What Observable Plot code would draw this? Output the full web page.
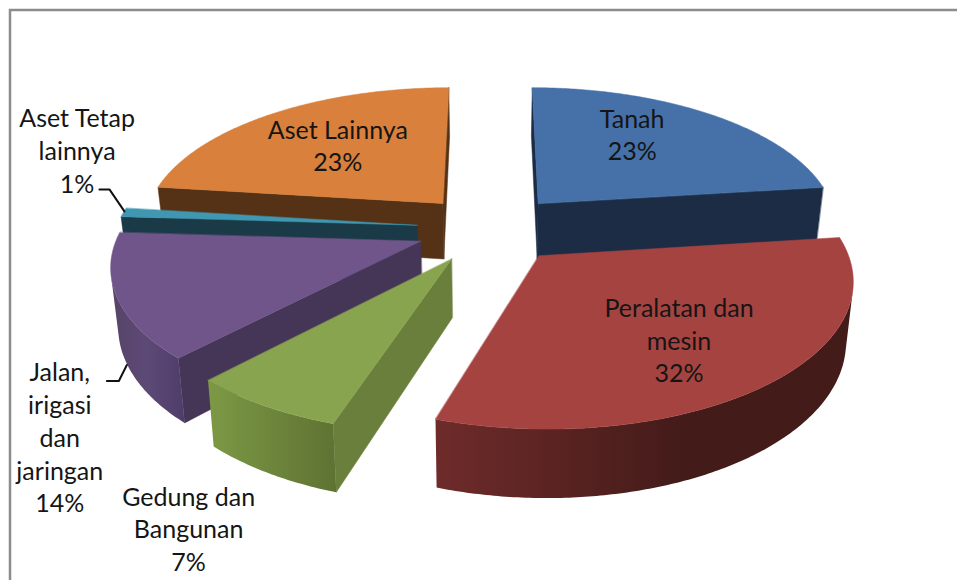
<!DOCTYPE html>
<html>
<head>
<meta charset="utf-8">
<script src="https://cdn.jsdelivr.net/npm/d3@7"></script>
<script src="https://cdn.jsdelivr.net/npm/@observablehq/plot@0.6"></script>
<style>
html,body{margin:0;padding:0;background:#fff;}
svg{display:block;}
</style>
</head>
<body>
<div id="chart"></div>
<script>
// Data
const categories = ["Tanah", "Peralatan dan mesin", "Gedung dan Bangunan", "Jalan, irigasi dan jaringan", "Aset Tetap lainnya", "Aset Lainnya"];
const values = [23, 32, 7, 14, 1, 23];
const labelLines = ["Tanah\n23%", "Peralatan dan\nmesin\n32%", "Gedung dan\nBangunan\n7%", "Jalan,\nirigasi\ndan\njaringan\n14%", "Aset Tetap\nlainnya\n1%", "Aset Lainnya\n23%"];

// Styles, in category order
const topColors = ["#4571a8", "#a54341", "#88a44e", "#70558a", "#3f97b2", "#d8803c"];
const wallColors = ["#1b2c44", "#431b19", "#6a7f3b", "#453556", "#193a46", "#553215"];
const outerFills = ["#1b2c44", "url(#gradRed)", "url(#gradGreen)", "url(#gradPurple)", "#193a46", "#553215"];
const drawOrder = [5, 0, 4, 3, 2, 1];

// Layout: a perspective view of an exploded pie
const W = 957, H = 580;
const Rx = 301, Ry = 297, explodeX = 74, explodeY = 73, thickness = 57, taper = 0.98;
const vx = 490, vy = -728, cy = 228, k = 0.000491, kx = 0.000491;
function project(X, Y, lowered) {
  const s = 1 / (1 + Y * k), sx = 1 / (1 + Y * kx);
  return {
    x: vx + X * sx * (lowered ? taper : 1),
    y: vy + (cy + (lowered ? thickness : 0) - vy) * s
  };
}
const total = d3.sum(values);
const rad = d => d / total * 2 * Math.PI;
let cum = 0;
const slices = values.map((v, i) => {
  const a0 = rad(cum), a1 = rad(cum + v);
  cum += v;
  const mid = (a0 + a1) / 2;
  const ox = explodeX * Math.sin(mid), oy = explodeY * Math.cos(mid);
  const n = Math.max(2, Math.ceil((a1 - a0) * 90));
  const rim = d3.range(n + 1).map(j => {
    const a = a0 + (a1 - a0) * j / n;
    return [ox + Rx * Math.sin(a), oy + Ry * Math.cos(a)];
  });
  return {i, mid, ox, oy, rim};
});
const area = pts => d3.sum(pts, (p, j) => {
  const q = pts[(j + 1) % pts.length];
  return p.x * q.y - q.x * p.y;
});
const rimPoint = (s, a, lowered) => project(s.ox + Rx * Math.sin(a), s.oy + Ry * Math.cos(a), lowered);

// Faces
const faces = [];
for (const idx of drawOrder) {
  const s = slices[idx];
  const apexT = project(s.ox, s.oy, false), apexB = project(s.ox, s.oy, true);
  const rimT = s.rim.map(p => project(p[0], p[1], false));
  const rimB = s.rim.map(p => project(p[0], p[1], true));
  const first = [apexT, rimT[0], rimB[0], apexB];
  const last = [rimT[rimT.length - 1], apexT, apexB, rimB[rimB.length - 1]];
  for (const q of [first, last]) {
    if (area(q) < 0) faces.push({pts: q, fill: wallColors[idx]});
  }
  const seg = d3.range(rimT.length - 1).filter(j => area([rimT[j], rimT[j + 1], rimB[j + 1], rimB[j]]) < 0);
  if (seg.length) {
    const a = seg[0], b = seg[seg.length - 1] + 1;
    faces.push({pts: [...rimT.slice(a, b + 1), ...rimB.slice(a, b + 1).reverse()], fill: outerFills[idx]});
  }
  faces.push({pts: [apexT, ...rimT], fill: topColors[idx]});
}

// Label block centres, relative to each slice's apex
const labelOffsets = [[94, -70], [140, 83.5], [-263, 269], [-361, 195], [-340, -76], [-105, -59]];
const labelRows = slices.map(s => {
  const a = project(s.ox, s.oy, false);
  return {text: labelLines[s.i], x: a.x + labelOffsets[s.i][0], y: a.y + labelOffsets[s.i][1]};
});

// Leader lines start from the rim of their slice
const leaderKnees = [
  {slice: 4, attach: [1, -1], knee: [-14, -23], end: [-24, -23]},
  {slice: 3, attach: [10, 68], knee: [2, 84], end: [-10, 84]}
];
const leaders = leaderKnees.map(l => {
  const s = slices[l.slice], p = rimPoint(s, s.mid, false);
  return [l.attach, l.knee, l.end].map(o => ({x: p.x + o[0], y: p.y + o[1]}));
});

function gradient(defs, id, stops) {
  const g = defs.append("linearGradient").attr("id", id);
  stops.forEach(([o, c]) => g.append("stop").attr("offset", o).attr("stop-color", c));
}

const fontFamily = "Lato, 'Noto Sans', sans-serif";
const plot = Plot.plot({
  width: W, height: H,
  margin: 0,
  x: {domain: [0, W], range: [0, W], axis: null},
  y: {domain: [0, H], range: [0, H], axis: null},
  style: {background: "#fff"},
  marks: [
    () => {
      const defs = d3.create("svg:defs");
      gradient(defs, "gradRed", [[0, "#6e2b2a"], [0.6, "#431b19"], [1, "#431b19"]]);
      gradient(defs, "gradGreen", [[0, "#7d9945"], [1, "#5e7232"]]);
      gradient(defs, "gradPurple", [[0, "#574468"], [0.5, "#5d4976"], [1, "#4f3c68"]]);
      return defs.node();
    },
    Plot.ruleY([9.5], {x1: 9, x2: W, stroke: "#8c8c8c", strokeWidth: 2.5}),
    Plot.ruleX([9.5], {y1: 9, y2: H, stroke: "#8c8c8c", strokeWidth: 2.5}),
    ...faces.map(f => Plot.line(f.pts, {
      x: "x", y: "y", fill: f.fill, stroke: f.fill.startsWith("url") ? "none" : f.fill,
      strokeWidth: 0.5, curve: "linear-closed"
    })),
    ...leaders.map(l => Plot.line(l, {x: "x", y: "y", stroke: "#111", strokeWidth: 2, curve: "linear"})),
    Plot.text(labelRows, {
      x: "x", y: "y", text: "text", fontFamily, fontSize: 25, lineHeight: 1.31,
      fill: "#151515", textAnchor: "middle", lineAnchor: "middle"
    })
  ]
});
document.getElementById("chart").append(plot);
</script>
</body>
</html>
